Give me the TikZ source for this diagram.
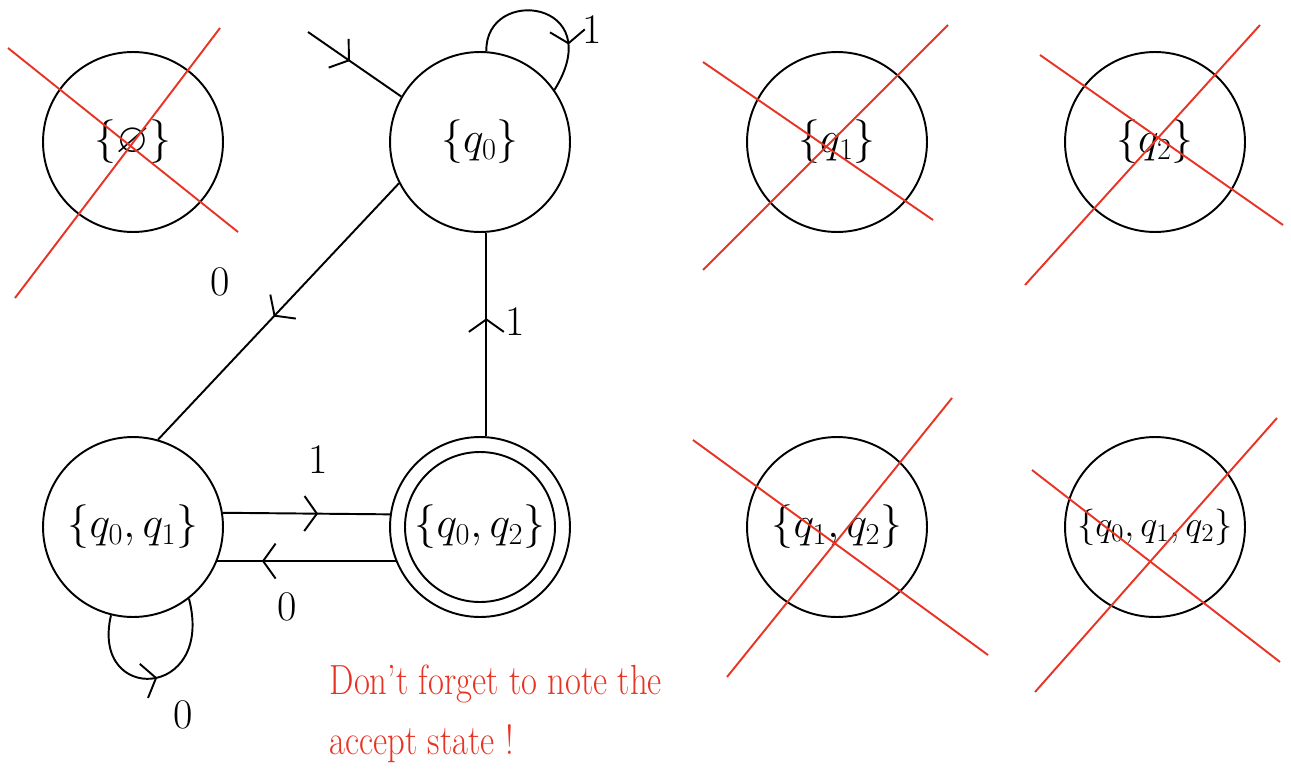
\documentclass[tikz,border=0pt]{standalone}
\usepackage{amsmath,amssymb}
\usepackage{xcolor}
\usepackage{tikz}
\usetikzlibrary{arrows.meta,decorations.markings,calc}
\definecolor{penred}{RGB}{232,52,36}

\begin{document}
\begin{tikzpicture}[x=0.02cm,y=-0.02cm,line width=1.1pt,
  state/.style={draw,circle,minimum size=3.6cm,inner sep=0pt,font=\fontsize{24}{28}\selectfont},
  lbl/.style={font=\fontsize{24}{28}\selectfont},
  cross/.style={draw=penred,line width=1.1pt},
  note/.style={text=penred,font=\fontsize{24}{34}\selectfont,align=left,xscale=0.82},
  midarrow/.style={postaction={decorate},decoration={markings,mark=at position #1 with {\arrow{Straight Barb[length=2.5mm,width=7mm]}}}}
]
  \useasboundingbox (0,0) rectangle (1291,777);
  % states
  \node[state] (empty) at (133,142) {$\{\varnothing\}$};
  \node[state] (q0) at (480,142) {$\{q_0\}$};
  \node[state] (q1) at (837,142) {$\{q_1\}$};
  \node[state] (q2) at (1155,142) {$\{q_2\}$};
  \node[state] (q01) at (133,527) {$\{q_0,q_1\}$};
  \node[state] (q02) at (480,527) {$\{q_0,q_2\}$};
  \draw (q02.center) circle[radius=75];
  \node[state] (q12) at (837,527) {$\{q_1,q_2\}$};
  \node[state,font=\fontsize{22}{26}\selectfont] (q012) at (1155,527) {$\{q_0,q_1,q_2\}$};
  % transitions
  \coordinate (start) at (308,32);
  \draw[midarrow=0.45] (start) -- (q0.150);
  \draw[midarrow=0.72] (q0.86) .. controls (485,-15) and (610,0) .. (q0.35);
  \draw[midarrow=0.52] (q0.207) -- (q01.74);
  \draw[midarrow=0.58] (q02.86) -- (q0.274);
  \draw[midarrow=0.57] (q01.9) -- (q02.172);
  \draw[midarrow=0.75] (q02.202) -- (q01.338);
  \draw[midarrow=0.5] (q01.256) .. controls (90,705) and (215,700) .. (q01.308);
  \node[lbl] (l1q0) at (592,30) {1};
  \node[lbl] (l0q0) at (220,282) {0};
  \node[lbl] (l1q02) at (515,322) {1};
  \node[lbl] (l1q01) at (318,460) {1};
  \node[lbl] (l0q02) at (287,607) {0};
  \node[lbl] (l0q01) at (183,715) {0};
  % crossed out states
  \draw[cross] (8,48) -- (238,232);
  \draw[cross] (15,298) -- (220,28);
  \draw[cross] (703,62) -- (933,220);
  \draw[cross] (703,270) -- (948,25);
  \draw[cross] (1040,55) -- (1283,225);
  \draw[cross] (1025,285) -- (1260,25);
  \draw[cross] (693,440) -- (988,655);
  \draw[cross] (727,677) -- (952,398);
  \draw[cross] (1032,470) -- (1280,662);
  \draw[cross] (1035,692) -- (1277,418);
  % reminder
  \node[note,anchor=north west] (remark) at (324,658) {Don't forget to note the\\accept state !};
\end{tikzpicture}
\end{document}
